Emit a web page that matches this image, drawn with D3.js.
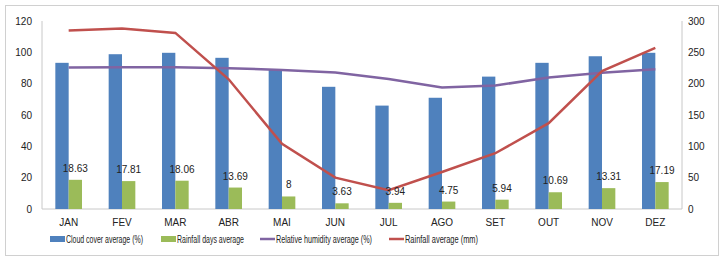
<!DOCTYPE html>
<html lang="en">
<head>
<meta charset="UTF-8">
<title>Climate averages</title>
<style>
    body { margin: 0; background: #fff; }
    text { font-family: "Liberation Sans", Arial, sans-serif; fill: #222; }
    .axis path, .axis line { stroke: #c8c8c8; }
    .axis text { font-size: 10px; fill: #222; }
    .bar-label { font-size: 10px; text-anchor: middle; }
    .legend text { font-size: 10px; }
</style>
</head>
<body>
<svg id="chart" width="725" height="272"></svg>
<script src="https://d3js.org/d3.v7.min.js"></script>
<script>
    // --- Data ---
    const months = ["JAN", "FEV", "MAR", "ABR", "MAI", "JUN", "JUL", "AGO", "SET", "OUT", "NOV", "DEZ"];
    const cloudCover = [93.3, 98.8, 99.7, 96.5, 89, 78, 66, 71, 84.5, 93.3, 97.5, 99.7];
    const rainDays = [18.63, 17.81, 18.06, 13.69, 8, 3.63, 3.94, 4.75, 5.94, 10.69, 13.31, 17.19];
    const humidity = [90.3, 90.5, 90.5, 89.8, 88.8, 87.2, 83, 77.5, 78.8, 84, 87, 89.2];
    const rainfall = [285, 288, 281, 207, 104, 50, 30, 59, 89, 137, 220, 257];
    const leftTicks = [0, 20, 40, 60, 80, 100, 120];
    const rightTicks = [0, 50, 100, 150, 200, 250, 300];

    const colors = { cloud: "#4f81bd", days: "#9bbb59", hum: "#8064a2", rain: "#c0504d" };

    const svg = d3.select("#chart");
    const margin = { top: 21, left: 42, right: 43, bottom: 63 };
    const width = 725 - margin.left - margin.right;
    const height = 272 - margin.top - margin.bottom;

    // outer frame
    svg.append("rect")
        .attr("x", 5.5).attr("y", 5.5)
        .attr("width", 713).attr("height", 250)
        .attr("fill", "none").attr("stroke", "#d0d0d0");

    const g = svg.append("g").attr("transform", `translate(${margin.left},${margin.top})`);

    const x = d3.scaleBand().domain(months).range([0, width]);
    const yL = d3.scaleLinear().domain([0, 120]).range([height, 0]);
    const yR = d3.scaleLinear().domain([0, 300]).range([height, 0]);
    const barW = x.bandwidth() * 0.25;

    // Axes
    g.append("g").attr("class", "axis")
        .call(d3.axisLeft(yL).tickValues(leftTicks).tickSize(0).tickPadding(10))
        .call(a => a.select(".domain").attr("d", `M0,0V${height}`));

    g.append("g").attr("class", "axis")
        .attr("transform", `translate(${width},0)`)
        .call(d3.axisRight(yR).tickValues(rightTicks).tickSize(0).tickPadding(6))
        .call(a => a.select(".domain").attr("d", `M0,0V${height}`));

    g.append("g").attr("class", "axis")
        .attr("transform", `translate(0,${height})`)
        .call(d3.axisBottom(x).tickSize(0).tickPadding(10))
        .call(a => a.select(".domain").attr("d", `M0,0H${width}`));

    // Bars
    g.selectAll(".cloud").data(months).enter().append("rect")
        .attr("x", d => x(d) + x.bandwidth() / 2 - barW)
        .attr("y", (d, i) => yL(cloudCover[i]))
        .attr("width", barW)
        .attr("height", (d, i) => height - yL(cloudCover[i]))
        .attr("fill", colors.cloud);

    g.selectAll(".days").data(months).enter().append("rect")
        .attr("x", d => x(d) + x.bandwidth() / 2)
        .attr("y", (d, i) => yL(rainDays[i]))
        .attr("width", barW)
        .attr("height", (d, i) => height - yL(rainDays[i]))
        .attr("fill", colors.days);

    // Lines
    const lineL = d3.line().x((d, i) => x(months[i]) + x.bandwidth() / 2).y(d => yL(d));
    const lineR = d3.line().x((d, i) => x(months[i]) + x.bandwidth() / 2).y(d => yR(d));

    g.append("path").datum(humidity)
        .attr("d", lineL).attr("fill", "none")
        .attr("stroke", colors.hum).attr("stroke-width", 2.5);

    g.append("path").datum(rainfall)
        .attr("d", lineR).attr("fill", "none")
        .attr("stroke", colors.rain).attr("stroke-width", 2.5);

    // Data labels for rainfall days
    g.selectAll(".bar-label").data(months).enter().append("text")
        .attr("class", "bar-label")
        .attr("x", d => x(d) + x.bandwidth() / 2 + barW / 2)
        .attr("y", (d, i) => yL(rainDays[i]) - 8)
        .text((d, i) => rainDays[i]);

    // Legend
    const legendItems = [
        { label: "Cloud cover average (%)", color: colors.cloud, type: "rect", x: 50, w: 77 },
        { label: "Rainfall days average", color: colors.days, type: "rect", x: 161, w: 67 },
        { label: "Relative humidity average (%)", color: colors.hum, type: "line", x: 260, w: 96 },
        { label: "Rainfall average (mm)", color: colors.rain, type: "line", x: 389, w: 73 }
    ];
    const legend = svg.append("g").attr("class", "legend");
    const ly = 239;
    legendItems.forEach(item => {
        const lg = legend.append("g").attr("transform", `translate(${item.x},${ly})`);
        if (item.type === "rect") {
            lg.append("rect").attr("x", 0).attr("y", -3).attr("width", 15).attr("height", 6).attr("fill", item.color);
        } else {
            lg.append("line").attr("x1", 0).attr("x2", 15).attr("y1", 0).attr("y2", 0)
                .attr("stroke", item.color).attr("stroke-width", 2.5);
        }
        lg.append("text").attr("x", 16).attr("y", 3.5)
            .attr("textLength", item.w).attr("lengthAdjust", "spacingAndGlyphs")
            .text(item.label);
    });
</script>
</body>
</html>
